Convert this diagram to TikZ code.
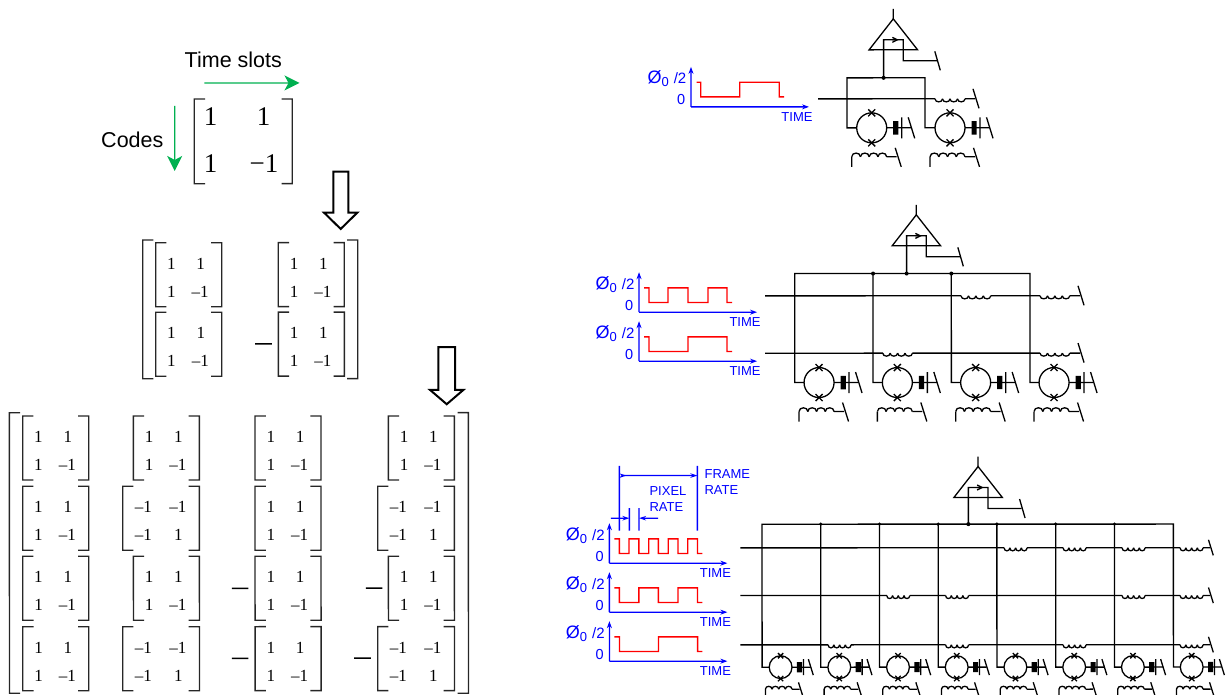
\documentclass[tikz,border=0pt]{standalone}
\usepackage{fontspec}
\setmainfont{Liberation Serif}
\newfontfamily\arial{Liberation Sans}
\usetikzlibrary{arrows.meta}
\definecolor{grn}{HTML}{00B050}
\definecolor{wavered}{HTML}{FF0000}
\tikzset{
  bk/.style={line width=1.3pt,black,line cap=butt},
  br/.style={line width=1.3pt,black!85},
  ax/.style={line width=1.3pt,blue,-{Stealth[length=7pt,width=5pt]}},
  wv/.style={line width=1.3pt,wavered},
  dm/.style={line width=1.3pt,blue},
  dmtip/.style={dm,-{Stealth[length=7pt,width=4.5pt]}},
  bluetx/.style={text=blue,font=\arial\fontsize{13}{13}\selectfont,inner sep=0pt},
  sm/.style={font=\fontsize{17}{17}\selectfont,inner sep=0pt},
  lg/.style={font=\fontsize{27}{27}\selectfont,inner sep=0pt},
  lbl/.style={font=\arial\fontsize{21.5}{21.5}\selectfont,inner sep=0pt},
  grarrow/.style={line width=1.3pt,grn,-{Stealth[length=15pt,width=15pt,inset=4pt]}},
  bigarrow/.style={line width=2pt,black,fill=white,line join=miter}
}
% brackets: left x, right x, top y, bottom y, tick
\newcommand{\brk}[5]{%
  \draw[br] ({#1+#5},#3) -- (#1,#3) -- (#1,#4) -- ({#1+#5},#4);
  \draw[br] ({#2-#5},#3) -- (#2,#3) -- (#2,#4) -- ({#2-#5},#4);}
% positive small matrix: left x, top y
\newcommand{\pmat}[2]{%
  \brk{#1}{#1+66}{#2}{#2+64}{10.7}
  \node[sm] at ({#1+15.7},{#2+21}) {1};
  \node[sm] at ({#1+45},{#2+21}) {1};
  \node[sm] at ({#1+15.7},{#2+49}) {1};
  \node[sm] at ({#1+44.5},{#2+49}) {–1};}
% negative small matrix: left x of the positive one, top y
\newcommand{\nmat}[2]{%
  \brk{#1-10.7}{#1+66}{#2}{#2+64}{10.7}
  \node[sm] at ({#1+10},{#2+21}) {–1};
  \node[sm] at ({#1+44.5},{#2+21}) {–1};
  \node[sm] at ({#1+10},{#2+49}) {–1};
  \node[sm] at ({#1+45},{#2+49}) {1};}
\newcommand{\mns}[3]{\draw[line width=1.5pt] (#1,#3) -- (#2,#3);}
% hollow arrow: shaft x1,x2, top, neck y, head x1,x2, tip y
\newcommand{\holarrow}[7]{%
  \draw[bigarrow] (#1,#3) -- (#2,#3) -- (#2,#4) -- (#6,#4) -- ({(#5+#6)/2},#7) -- (#5,#4) -- (#1,#4) -- cycle;}
% coil: x1, x2, y, signed height
\newcommand{\coil}[4]{%
  \foreach \k in {0,1,2,3}{
    \pgfmathsetmacro\xa{#1+\k*(#2-#1)/4}
    \pgfmathsetmacro\xb{#1+(\k+1)*(#2-#1)/4}
    \draw[bk] (\xa,#3) .. controls (\xa,{#3+#4}) and (\xb,{#3+#4}) .. (\xb,#3);
  }}
% terminal slash: x, y, scale
\newcommand{\term}[3]{\draw[bk] ({#1-2*#3},{#2-10*#3}) -- ({#1+4*#3},{#2+9.5*#3});}
% row wire: y, start, coil starts, coil width, end, slash scale
\newcommand{\rowwire}[6]{%
  \xdef\prevx{#2}
  \foreach \c in {#3}{
    \draw[bk] (\prevx,#1) -- (\c,#1);
    \coil{\c}{\c+#4}{#1}{4}
    \pgfmathsetmacro\nx{\c+#4}
    \xdef\prevx{\nx}
  }
  \draw[bk] (\prevx,#1) -- (#5,#1);
  \term{#5}{#1}{#6}}
% squid cell: centre x, y, scale
\newcommand{\squid}[3]{%
  \begin{scope}[shift={(#1,#2)},scale=#3]
    \draw[bk] (0,0) circle[radius=15];
    \draw[bk] (-3.5,-18.5) -- (3.5,-11.5) (3.5,-18.5) -- (-3.5,-11.5);
    \draw[bk] (-3.5,18.5) -- (3.5,11.5) (3.5,18.5) -- (-3.5,11.5);
    \draw[bk] (15,0) -- (30,0);
    \fill ({21.5},-6.7) rectangle ({21.5+5.2/#3},6.7);
    \draw[bk] (30,-10.5) -- (30,10.5);
    \draw[bk] (30,0) -- (39.5,0);
    \draw[bk] (36.5,-10.5) -- (43,10.5);
    \draw[bk] (-20,39) -- (-20,29);
    \coil{-20}{15}{29}{-5}
    \draw[bk] (15,29) -- (25,29);
    \draw[bk] (23.5,20) -- (29.5,39);
  \end{scope}}
% amplifier: apex x, apex y, bus y
\newcommand{\ampl}[3]{%
  \begin{scope}[shift={(#1,#2)}]
    \draw[bk,line join=miter] (0,0) -- (24.3,31) -- (-24.2,31) -- cycle;
    \draw[bk] (0,0) -- (0,-10);
    \draw[bk] (-9.7,{#3-#2}) -- (-9.7,21) -- (10,21) -- (10,42) -- (43.5,42);
    \draw[bk,-{Straight Barb[length=5pt,width=5pt]}] (-1,21) -- (5.5,21);
    \draw[bk] (41.5,32.5) -- (47,51.5);
    \fill (-9.7,{#3-#2}) circle[radius=2];
  \end{scope}}
% waveform group: origin x, y; waveform path given in #3
\newcommand{\wave}[3]{%
  \begin{scope}[shift={(#1,#2)}]
    \draw[ax] (0,0) -- (0,-40);
    \draw[ax] (0,0) -- (118,0);
    \node[bluetx,anchor=east] at (-4.5,-28) {\fontsize{18}{18}\selectfont\O\raisebox{-3pt}{\fontsize{13}{13}\selectfont 0}\hspace{5pt}\fontsize{15}{15}\selectfont /2};
    \node[bluetx,font=\arial\fontsize{14.5}{14.5}\selectfont] at (-9.8,-7) {0};
    \node[bluetx] at (106,10) {TIME};
    \draw[wv] #3;
  \end{scope}}
\begin{document}
\begin{tikzpicture}[x=1pt,y=-1pt]
\useasboundingbox (0,0) rectangle (1227,695);
\begin{scope}[rotate=0.01]
% ---------- top matrix
\draw[grarrow] (204.3,83) -- (299.5,83);
\draw[grarrow] (174.7,106) -- (174.7,171);
\node[lbl] (tslots) at (233.3,59.5) {Time slots};
\node[lbl] (codes) at (132.3,139.5) {Codes};
\brk{194.3}{292.3}{99}{183.7}{10.7}
\node[lg] (m11) at (210.7,117) {1};
\node[lg] (m12) at (263.5,117) {1};
\node[lg] (m21) at (210.7,164) {1};
\node[lg] (m22) at (264,164) {\fontsize{27}{27}\selectfont −1};
\holarrow{333.3}{348.3}{171.7}{212.7}{324}{357.3}{229}
% ---------- stage 2
\brk{142.7}{357.7}{240}{378.7}{10.7}
\pmat{155.7}{242.7}
\pmat{278.3}{242.7}
\pmat{155.7}{312.2}
\pmat{278.3}{312.2}
\mns{255}{271.7}{344}
\holarrow{438.3}{455}{347.3}{390}{430}{463.3}{404.3}
% ---------- stage 3
\brk{9.3}{468.3}{412.7}{693.3}{10.7}
\pmat{22.7}{416}   \pmat{133.3}{416}  \pmat{255}{416}    \pmat{388.3}{416}
\pmat{22.7}{486.3} \nmat{133.3}{486.3}\pmat{255}{486.3}  \nmat{388.3}{486.3}
\pmat{22.7}{556.3} \pmat{133.3}{556.3}\pmat{255}{556.3}  \pmat{388.3}{556.3}
\pmat{22.7}{626.7} \nmat{133.3}{626.7}\pmat{255}{626.7}  \nmat{388.3}{626.7}
\mns{231.7}{248.3}{588.3}
\mns{365.7}{382.3}{588.3}
\mns{231.7}{248.3}{658.3}
\mns{354}{370.7}{658.3}
% ---------- waveforms
\wave{691}{107}{(5.7,-24.7) -- (9.7,-24.7) -- (9.7,-10) -- (48.7,-10) -- (48.7,-24.7) -- (88.3,-24.7) -- (88.3,-10) -- (93,-10)}
\wave{639}{312.3}{(5,-24.3) -- (10,-24.3) -- (10,-9.6) -- (29,-9.6) -- (29,-24.3) -- (49,-24.3) -- (49,-9.6) -- (69,-9.6) -- (69,-24.3) -- (88,-24.3) -- (88,-9.6) -- (93,-9.6)}
\wave{639}{361.3}{(5,-24.3) -- (10,-24.3) -- (10,-9.6) -- (49,-9.6) -- (49,-24.3) -- (88,-24.3) -- (88,-9.6) -- (93,-9.6)}
\wave{609.3}{563.3}{(5,-24.3) -- (10,-24.3) -- (10,-9.6) -- (19.7,-9.6) -- (19.7,-24.3) -- (29.5,-24.3) -- (29.5,-9.6) -- (39.3,-9.6) -- (39.3,-24.3) -- (49,-24.3) -- (49,-9.6) -- (58.8,-9.6) -- (58.8,-24.3) -- (68.6,-24.3) -- (68.6,-9.6) -- (78.4,-9.6) -- (78.4,-24.3) -- (88.2,-24.3) -- (88.2,-9.6) -- (93,-9.6)}
\wave{609.3}{612.3}{(5,-24.3) -- (10,-24.3) -- (10,-9.6) -- (29.5,-9.6) -- (29.5,-24.3) -- (49,-24.3) -- (49,-9.6) -- (68.6,-9.6) -- (68.6,-24.3) -- (88.2,-24.3) -- (88.2,-9.6) -- (93,-9.6)}
\wave{609.3}{661.3}{(5,-24.3) -- (10,-24.3) -- (10,-9.6) -- (49,-9.6) -- (49,-24.3) -- (88.2,-24.3) -- (88.2,-9.6) -- (93,-9.6)}
% ---------- rate dimensions
\draw[dm] (619.3,466) -- (619.3,530.7);
\draw[dm] (697.3,466) -- (697.3,530.7);
\draw[dm] (629.3,508.3) -- (629.3,530.7);
\draw[dm] (639,508.3) -- (639,530.7);
\draw[dm,{Stealth[length=7pt,width=4.5pt,reversed]}-{Stealth[length=7pt,width=4.5pt]}] (619.3,475.7) -- (697.3,475.7);
\draw[dmtip] (610.7,518.3) -- (629.3,518.3);
\draw[dmtip] (658,518.3) -- (639,518.3);
\node[bluetx,anchor=west] (frame) at (704.3,474.3) {FRAME};
\node[bluetx,anchor=west] (frate) at (704.3,490) {RATE};
\node[bluetx,anchor=west] (pixel) at (649.3,491) {PIXEL};
\node[bluetx,anchor=west] (prate) at (649.3,506.7) {RATE};
% ---------- circuit 1
\draw[bk,line join=miter] (856.7,128) -- (847,128) -- (847,78) -- (925,78) -- (925,128) -- (935,128);
\rowwire{99}{818}{935}{30}{975}{1}
\squid{871.7}{128}{1}
\squid{950}{128}{1}
\ampl{893.3}{19}{78}
% ---------- circuit 2
\draw[bk,line join=miter] (804,382.7) -- (794.7,382.7) -- (794.7,273.7) -- (1030,273.7) -- (1030,382.7) -- (1039,382.7);
\foreach \bx in {873,951.3}{
  \draw[bk] (\bx,273.7) -- (\bx,382.7) -- ({\bx+9.3},382.7);
  \fill (\bx,273.7) circle[radius=2];
}
\rowwire{296}{765}{961,1040}{29.7}{1080}{1}
\rowwire{353.3}{765}{882.7,1040}{29.7}{1080}{1}
\squid{819}{382.7}{1}
\squid{897.3}{382.7}{1}
\squid{975.6}{382.7}{1}
\squid{1054}{382.7}{1}
\ampl{916.3}{215}{273.7}
% ---------- circuit 3
\draw[bk,line join=miter] (769,667.3) -- (762,667.3) -- (762,524.3) -- (1173.3,524.3) -- (1173.3,667.3) -- (1180.5,667.3);
\foreach \bx in {820.7,879.4,938.1,996.8,1055.6,1114.4}{
  \draw[bk] (\bx,524.3) -- (\bx,667.3) -- ({\bx+7},667.3);
  \fill (\bx,524.3) circle[radius=1.8];
}
\rowwire{548}{740.3}{1004,1063,1122,1180}{23}{1210}{.8}
\rowwire{595.7}{740.3}{886.7,945.5,1122,1180}{23}{1210}{.8}
\rowwire{645}{740.3}{828,945.5,1063,1180}{23}{1210}{.8}
\foreach \sx in {780.5,839.2,897.9,956.6,1015.3,1074.1,1132.8,1191.6}{
  \squid{\sx}{667.3}{.76}
}
\ampl{978}{466.7}{524.3}
\end{scope}
\end{tikzpicture}
\end{document}
